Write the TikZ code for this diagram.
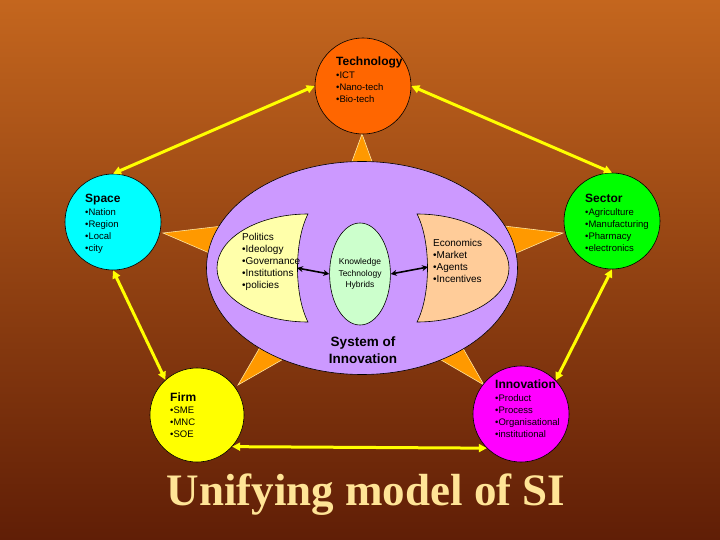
\documentclass[tikz,border=0pt]{standalone}
\usepackage{fontspec}
\setmainfont{Liberation Sans}
\newfontfamily\titlefont{Liberation Serif}
\usetikzlibrary{calc,arrows.meta,shapes.geometric}

\definecolor{bgtop}{RGB}{196,102,30}
\definecolor{bgmid}{RGB}{170,78,16}
\definecolor{bgbot}{RGB}{96,30,6}
\definecolor{techfill}{RGB}{255,102,0}
\definecolor{spacefill}{RGB}{0,255,255}
\definecolor{sectorfill}{RGB}{0,255,0}
\definecolor{firmfill}{RGB}{255,255,0}
\definecolor{innofill}{RGB}{255,0,255}
\definecolor{soifill}{RGB}{204,153,255}
\definecolor{polfill}{RGB}{255,255,170}
\definecolor{ecofill}{RGB}{255,204,153}
\definecolor{knfill}{RGB}{204,255,204}
\definecolor{spikefill}{RGB}{255,153,0}
\definecolor{spikeedge}{RGB}{255,230,160}
\definecolor{arrowyellow}{RGB}{255,255,0}
\definecolor{titlecol}{RGB}{255,228,150}

\begin{document}
\begin{tikzpicture}[x=1pt,y=-1pt,
  bigcircle/.style={circle, minimum size=96pt, inner sep=0pt, draw=black, line width=0.6pt},
  cirtext/.style={align=left, inner sep=0pt, anchor=north west, font=\fontsize{9.5}{12}\selectfont},
  innertext/.style={align=left, inner sep=0pt, anchor=north west, font=\fontsize{10}{12}\selectfont},
  yarrow/.style={draw=arrowyellow, line width=3pt, {Triangle[length=8pt,width=8pt]}-{Triangle[length=8pt,width=8pt]}},
  barrow/.style={draw=black, line width=1.6pt, {Stealth[length=6pt,width=6pt]}-{Stealth[length=6pt,width=6pt]}},
  spike/.style={fill=spikefill, draw=spikeedge, line width=0.6pt}
]
\useasboundingbox (0,0) rectangle (720,540);
\shade[top color=bgtop, middle color=bgmid, bottom color=bgbot] (0,0) rectangle (720,540);

% star spikes
\coordinate (ctr) at (362,262);
\coordinate (s1) at (362,134);
\coordinate (s2) at (163,233);
\coordinate (s3) at (563,233);
\coordinate (s4) at (238,385);
\coordinate (s5) at (484,385);
\draw[spike] (s1) -- ($(s1)!70pt!20:(ctr)$) -- ($(s1)!70pt!-20:(ctr)$) -- cycle;
\foreach \s in {s2,s3,s4,s5}{
  \draw[spike] (\s) -- ($(\s)!90pt!15:(ctr)$) -- ($(\s)!90pt!-15:(ctr)$) -- cycle;
}

% system of innovation
\node[ellipse, minimum width=311pt, minimum height=213pt, inner sep=0pt, fill=soifill, draw=black, line width=0.6pt] (soi) at (362,268) {};

% politics and economics shapes
\draw[fill=polfill, draw=black, line width=0.6pt]
  (308,214) .. controls (257.7,214) and (217,238.2) .. (217,268)
  .. controls (217,297.8) and (257.7,322) .. (308,322)
  .. controls (294,295) and (294,241) .. (308,214) -- cycle;
\draw[fill=ecofill, draw=black, line width=0.6pt]
  (417,214) .. controls (467.7,214) and (509,238.2) .. (509,268)
  .. controls (509,297.8) and (467.7,322) .. (417,322)
  .. controls (431,295) and (431,241) .. (417,214) -- cycle;

\node[innertext] (pol) at (242,233) {Politics\\•Ideology\\•Governance\\•Institutions\\•policies};
\node[innertext] (eco) at (433,239) {Economics\\•Market\\•Agents\\•Incentives};

\node[ellipse, minimum width=54pt, minimum height=102pt, inner sep=0pt, fill=knfill, draw=black, line width=0.6pt, align=center, font=\fontsize{8.5}{11.5}\selectfont] (kn) at (360,274) {Knowledge\\Technology\\Hybrids};

\coordinate (polR) at (297,268);
\coordinate (ecoL) at (428,267);
\draw[barrow] (polR) -- (kn.west);
\draw[barrow] (kn.east) -- (ecoL);

\node[align=center, font=\bfseries\fontsize{13.5}{16.5}\selectfont] (soitext) at (363,350) {System of\\Innovation};

% outer circles
\node[bigcircle, fill=techfill] (tech) at (363,86) {};
\node[bigcircle, fill=spacefill] (space) at (113,222) {};
\node[bigcircle, fill=sectorfill] (sector) at (612,221) {};
\node[bigcircle, fill=firmfill, minimum size=94pt] (firm) at (197,415) {};
\node[bigcircle, fill=innofill] (inno) at (521,414) {};

\node[cirtext] (techtext) at (336,56.7) {{\bfseries\fontsize{12}{14}\selectfont Technology}\\[1pt]•ICT\\•Nano-tech\\•Bio-tech};
\node[cirtext] (spacetext) at (85,193.7) {{\bfseries\fontsize{12}{14}\selectfont Space}\\[1pt]•Nation\\•Region\\•Local\\•city};
\node[cirtext] (sectortext) at (585,193.7) {{\bfseries\fontsize{12}{14}\selectfont Sector}\\[1pt]•Agriculture\\•Manufacturing\\•Pharmacy\\•electronics};
\node[cirtext] (firmtext) at (170,392.7) {{\bfseries\fontsize{12}{14}\selectfont Firm}\\•SME\\•MNC\\•SOE};
\node[cirtext] (innotext) at (495,379.7) {{\bfseries\fontsize{12}{14}\selectfont Innovation}\\[1pt]•Product\\•Process\\•Organisational\\•institutional};

% pentagon arrows
\draw[yarrow] (space.north) -- (tech.west);
\draw[yarrow] (sector.north) -- (tech.east);
\draw[yarrow] (space.south) -- (firm.132);
\draw[yarrow] (sector.south) -- (inno.44);
\draw[yarrow] (firm.-42) -- (inno.225);

% title
\node[anchor=base, inner sep=0pt, text=titlecol, font=\titlefont\bfseries\fontsize{45}{45}\selectfont] (title) at (366,505) {Unifying model of SI};
\end{tikzpicture}
\end{document}
